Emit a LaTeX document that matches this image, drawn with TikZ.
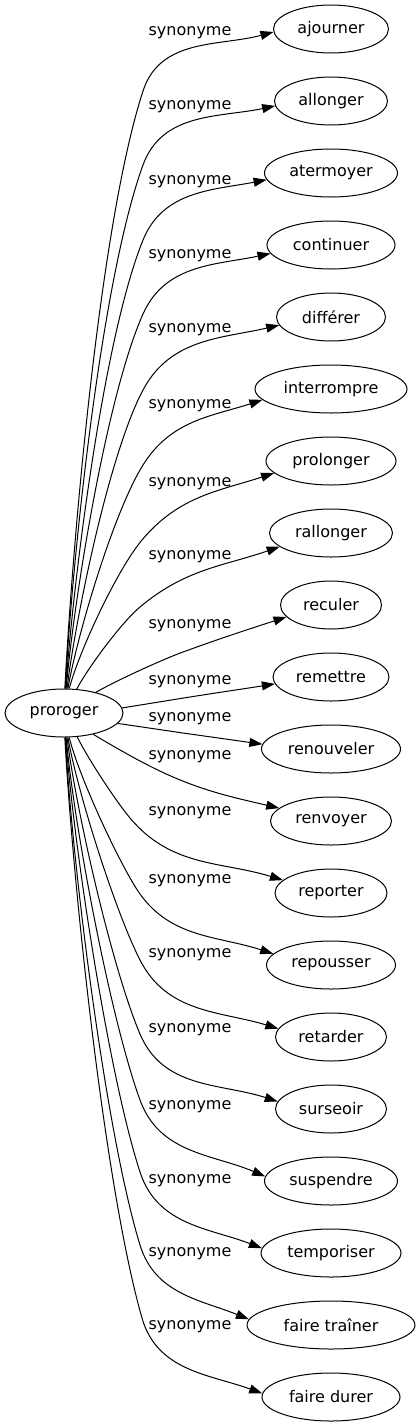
\documentclass[tikz,border=0pt]{standalone}
\usepackage{fontspec}
\setmainfont{DejaVu Sans}
\usetikzlibrary{arrows.meta,shapes.geometric}
\begin{document}
\begin{tikzpicture}[x=1pt,y=1pt,
every node/.style={font=\fontsize{16}{19}\selectfont},
word/.style={%
draw,
ellipse,
line width=1pt,
inner sep=0pt,
minimum height=48pt
},
syn/.style={%
anchor=center,
inner sep=0pt
},
edge/.style={%
line width=1pt,
-{Triangle[length=13pt,width=9pt]}
}]
\useasboundingbox (0,0) rectangle (419,-1427);
\node[word,minimum width=118pt]at(64,-713)(proroger){proroger};
\foreach \n/\t/\w[count=\i from 0] in {ajourner/ajourner/115,allonger/allonger/113,
atermoyer/atermoyer/133,continuer/continuer/128,differer/différer/109,
interrompre/interrompre/152,prolonger/prolonger/130,rallonger/rallonger/123,
reculer/reculer/101,remettre/remettre/116,renouveler/renouveler/139,
renvoyer/renvoyer/121,reporter/reporter/112,repousser/repousser/129,
retarder/retarder/111,surseoir/surseoir/111,suspendre/suspendre/133,
temporiser/temporiser/140,ftrainer/faire traîner/168,fdurer/faire durer/138}{%
\node[word,minimum width=\w pt]at(331,{-29-72*\i})(\n){\t};
}
\foreach \n/\l/\sa/\a/\kx/\ky/\b/\ea/\e in {ajourner/33/88/87/143/91/72/183/195,
allonger/107/87/87/143/165/70/185/192,atermoyer/182/86/86/143/240/68/186/191,
continuer/256/85/85/143/314/66/188/192,differer/330/83/83/143/390/62/189/193,
interrompre/406/81/80/143/465/58/189/198,prolonger/484/78/75/142/540/50/192/198,
rallonger/557/62/62/140/607/40/195/199,reculer/626/33/30/183/652/20/195/198,
remettre/682/5/9/190/697/9/187/189,renouveler/719/-11/-8/190/734/-8/176/172,
renvoyer/757/-36/-32/140/761/-28/166/167,reporter/813/-61/-64/130/818/-50/165/163,
repousser/881/-78/-76/136/888/-58/169/162,retarder/955/-81/-80/140/960/-63/171/163,
surseoir/1030/-83/-83/140/1034/-67/172/162,suspendre/1107/-85/-85/140/1100/-70/176/157,
temporiser/1181/-86/-86/140/1172/-72/176/159,ftrainer/1254/-87/-87/140/1245/-73/176/158,
fdurer/1327/-88/-87/142/1318/-74/177/160}{%
\pgfmathsetmacro\bb{\b+180}
\node[syn]at(190,-\l)(s\n){synonyme};
\draw[edge](proroger.\sa) to[out=\a,in=\bb,looseness=0.6] (\kx,-\ky) to[out=\b,in=\e] (\n.\ea);
}
\end{tikzpicture}
\end{document}
